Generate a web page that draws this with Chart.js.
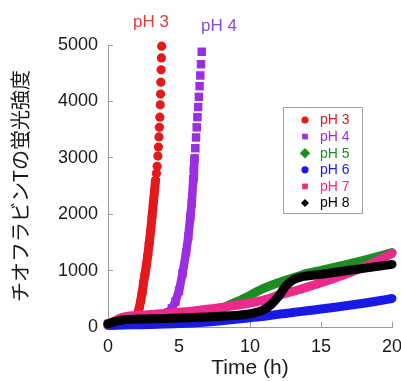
<!DOCTYPE html>
<html><head><meta charset="utf-8">
<script src="https://cdn.jsdelivr.net/npm/chart.js@4"></script>
<style>html,body{margin:0;padding:0;background:#fff;} #wrap{width:401px;height:381px;position:relative;}</style>
</head><body><div id="wrap"><canvas id="c" width="401" height="381"></canvas></div>
<script>
// ---- data ----
const seriesLabels = ['pH 3', 'pH 4', 'pH 5', 'pH 6', 'pH 7', 'pH 8'];

const hoursRed = [0, 0.5, 1, 1.5, 1.8, 2.0, 2.1, 2.2, 2.3, 2.4, 2.5, 2.6, 2.7, 2.8, 2.9, 3.0, 3.1, 3.2, 3.28, 3.35, 3.41, 3.46, 3.51, 3.55, 3.59, 3.62, 3.65, 3.68, 3.70, 3.72, 3.74, 3.76, 3.78];
const valuesRed = [55, 100, 125, 140, 150, 175, 240, 340, 460, 600, 780, 930, 1090, 1270, 1480, 1700, 1950, 2220, 2420, 2600, 2720, 2850, 3030, 3190, 3370, 3540, 3720, 3940, 4130, 4340, 4560, 4770, 4980];

const hoursPurple = [0, 1, 2, 3, 3.5, 4.0, 4.25, 4.5, 4.75, 5.0, 5.25, 5.5, 5.65, 5.8, 5.9, 6.0, 6.05, 6.1, 6.15, 6.2, 6.25, 6.3, 6.35, 6.4, 6.45, 6.5, 6.55, 6.6];
const valuesPurple = [55, 130, 160, 190, 205, 230, 260, 330, 450, 640, 950, 1320, 1600, 1950, 2200, 2620, 2800, 2990, 3170, 3360, 3540, 3720, 3900, 4080, 4270, 4460, 4660, 4880];

const hours = [0, 0.5, 1, 2, 3, 4, 5, 6, 7, 8, 9, 10, 10.5, 11, 11.5, 12, 12.5, 13, 13.5, 14, 15, 16, 17, 18, 19, 20];
const valuesGreen = [30, 35, 40, 50, 60, 80, 110, 160, 230, 330, 440, 560, 630, 690, 740, 785, 828, 870, 910, 950, 1005, 1062, 1120, 1180, 1250, 1320];
const valuesBlue  = [30, 32, 35, 40, 45, 52, 60, 72, 90, 112, 138, 165, 178, 192, 208, 225, 240, 256, 272, 288, 318, 350, 385, 422, 462, 505];
const valuesPink  = [50, 110, 170, 205, 220, 240, 260, 285, 315, 345, 385, 425, 450, 480, 520, 560, 595, 630, 665, 705, 785, 870, 960, 1060, 1175, 1305];
const valuesBlack = [55, 95, 125, 140, 145, 150, 158, 168, 178, 190, 205, 235, 265, 310, 400, 540, 720, 830, 880, 905, 935, 970, 1005, 1040, 1075, 1110];

const xTickValues = [0, 5, 10, 15, 20];
const yTickValues = [0, 1000, 2000, 3000, 4000, 5000];

// ---- styles ----
const colors = ['#e3191c', '#9a2ee0', '#1f8c22', '#1a1ae6', '#ec2a8c', '#000000'];
const markerStyles = ['circle', 'rect', 'rectRot', 'circle', 'rect', 'rectRot'];
const pts = (xs, ys) => xs.map((x, i) => ({x: x, y: ys[i]}));

function bandSet(i, xs, ys, extra) {
  return Object.assign({
    label: seriesLabels[i],
    data: pts(xs, ys),
    borderColor: colors[i],
    backgroundColor: colors[i],
    pointBackgroundColor: colors[i],
    pointBorderWidth: 0,
    pointStyle: markerStyles[i],
    pointRadius: 0,
    pointHoverRadius: 0,
    borderWidth: 9,
    borderCapStyle: 'round',
    borderJoinStyle: 'round',
    cubicInterpolationMode: 'monotone',
    clip: false
  }, extra || {});
}

const datasets = [
  bandSet(0, hoursRed, valuesRed, {order: 5, pointRadius: 4.6, borderWidth: 9, cubicInterpolationMode: 'default', tension: 0,
    segment: {borderColor: c => c.p0.parsed.y >= 2600 ? 'rgba(0,0,0,0)' : undefined}}),
  bandSet(1, hoursPurple, valuesPurple, {order: 4, pointRadius: 6, borderWidth: 8.5, cubicInterpolationMode: 'default', tension: 0,
    segment: {borderColor: c => c.p0.parsed.y >= 2900 ? 'rgba(0,0,0,0)' : undefined}}),
  bandSet(2, hours, valuesGreen, {order: 3}),
  bandSet(3, hours, valuesBlue, {order: 2}),
  bandSet(4, hours, valuesPink, {order: 1}),
  bandSet(5, hours, valuesBlack, {order: 0})
];

const legendMarkerSizes = [3.6, 3.8, 5.2, 3.6, 3.8, 4.0];

const overlayPlugin = {
  id: 'overlay',
  afterDraw(chart) {
    const ctx = chart.ctx;
    ctx.save();
    // legend box
    const bx = 283.5, by = 107.5, bw = 79, bh = 106;
    ctx.strokeStyle = '#a0a0a0';
    ctx.lineWidth = 1;
    ctx.fillStyle = '#fff';
    ctx.fillRect(bx, by, bw, bh);
    ctx.strokeRect(bx, by, bw, bh);
    ctx.font = '14px "Liberation Sans", Arial, sans-serif';
    ctx.textBaseline = 'middle';
    chart.data.datasets.forEach((ds, i) => {
      const y = 120 + i * 16.6;
      const x = 305;
      const r = legendMarkerSizes[i];
      ctx.fillStyle = colors[i];
      ctx.beginPath();
      if (markerStyles[i] === 'circle') {
        ctx.arc(x, y, r, 0, Math.PI * 2);
      } else if (markerStyles[i] === 'rect') {
        ctx.rect(x - r * 0.75, y - r * 0.75, r * 1.5, r * 1.5);
      } else {
        ctx.moveTo(x, y - r); ctx.lineTo(x + r, y); ctx.lineTo(x, y + r); ctx.lineTo(x - r, y); ctx.closePath();
      }
      ctx.fill();
      ctx.fillText(ds.label, 320, y + 0.5);
    });
    // labels above the steep curves
    ctx.font = '17px "Liberation Sans", Arial, sans-serif';
    ctx.textAlign = 'center';
    ctx.fillStyle = '#e8383a';
    ctx.fillText(seriesLabels[0], 151, 22);
    ctx.fillStyle = '#8a4ae0';
    ctx.fillText(seriesLabels[1], 219, 26);
    ctx.restore();
  }
};

new Chart(document.getElementById('c'), {
  type: 'line',
  data: {datasets: datasets},
  plugins: [overlayPlugin],
  options: {
    responsive: false,
    animation: false,
    events: [],
    layout: {padding: {left: 0, right: 9, top: 45, bottom: 0}},
    plugins: {legend: {display: false}, tooltip: {enabled: false}},
    scales: {
      x: {
        type: 'linear', min: 0, max: 20,
        afterBuildTicks: s => { s.ticks = xTickValues.map(v => ({value: v})); },
        afterFit: s => { s.height = 54; s.paddingRight = 0; s.paddingLeft = 0; },
        border: {color: '#9a9a9a', width: 1},
        grid: {drawOnChartArea: false, color: '#9a9a9a', tickLength: -5},
        ticks: {color: '#1a1a1a', padding: 14, font: {family: '"Liberation Sans", Arial, sans-serif', size: 18}},
        title: {display: true, text: 'Time (h)', color: '#1a1a1a', padding: {top: 0, bottom: 0},
          font: {family: '"Liberation Sans", Arial, sans-serif', size: 21}}
      },
      y: {
        type: 'linear', min: 0, max: 5000,
        afterBuildTicks: s => { s.ticks = yTickValues.map(v => ({value: v})); },
        afterFit: s => { s.width = 108; s.paddingTop = 0; s.paddingBottom = 0; },
        border: {color: '#9a9a9a', width: 1},
        grid: {drawOnChartArea: false, color: '#9a9a9a', tickLength: -5},
        ticks: {color: '#1a1a1a', padding: 15, callback: v => String(v),
          font: {family: '"Liberation Sans", Arial, sans-serif', size: 18}},
        title: {display: true, text: 'チオフラビンTの蛍光強度', color: '#1a1a1a', padding: {top: 8, bottom: 0},
          font: {family: '"Noto Sans CJK JP", sans-serif', size: 20}}
      }
    }
  }
});
</script>
</body></html>
